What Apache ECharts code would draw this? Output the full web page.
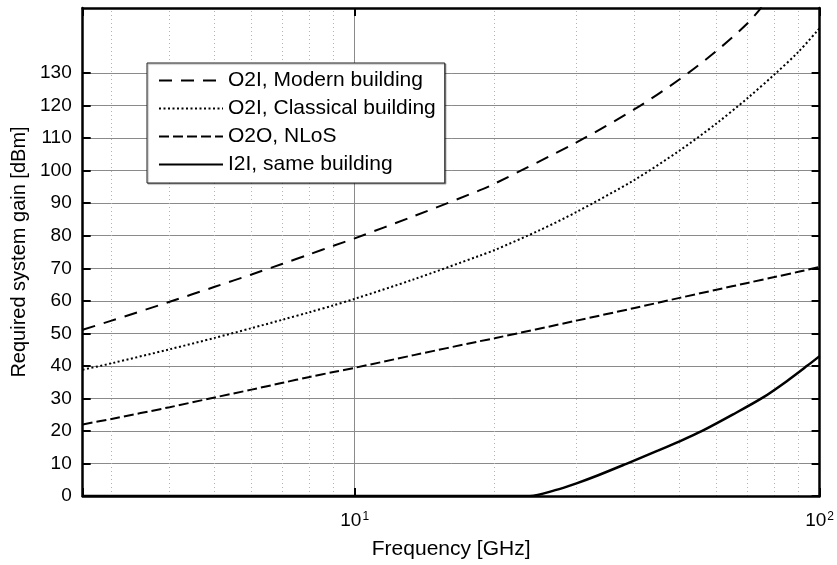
<!DOCTYPE html>
<html><head><meta charset="utf-8">
<script src="https://cdn.jsdelivr.net/npm/echarts@6/dist/echarts.min.js"></script>
<style>html,body{margin:0;padding:0;background:#fff}#c{width:837px;height:565px}</style>
</head><body><div id="c"></div>
<script>
const seriesNames = ['O2I, Modern building', 'O2I, Classical building', 'O2O, NLoS', 'I2I, same building'];

const freqModern = [2.6, 3, 4, 5, 6, 7, 8, 9, 10, 13.4, 18.6, 20, 30, 40, 50, 60, 70, 75];
const gainModern = [51.1, 53.9, 59.7, 64.3, 68.1, 71.4, 74.3, 76.9, 79.2, 86.0, 94.0, 96.0, 108.7, 118.9, 128.1, 136.8, 145.3, 150.2];

const freqClassical = [2.6, 3, 4, 5, 6, 7, 8, 9, 10, 13.4, 18.6, 20, 25, 30, 40, 50, 60, 70, 80, 90, 100];
const gainClassical = [38.8, 40.8, 45.1, 48.6, 51.6, 54.2, 56.5, 58.6, 60.6, 66.6, 73.9, 75.6, 81.7, 87.3, 97.2, 106.2, 114.5, 122.3, 129.6, 136.5, 143.8];

const freqO2O = [2.6, 3, 4, 5, 6, 7, 8, 9, 10, 13.4, 18.6, 20, 30, 40, 50, 60, 70, 80, 90, 100];
const gainO2O = [22.0, 23.7, 27.3, 30.3, 32.7, 34.8, 36.6, 38.1, 39.4, 43.3, 47.6, 48.5, 53.9, 57.8, 60.9, 63.4, 65.5, 67.3, 68.9, 70.4];

const freqI2I = [2.6, 23.8, 27, 30, 33.3, 38.4, 45, 50, 55.9, 65, 75.6, 85, 94, 100];
const gainI2I = [0, 0, 1.8, 3.9, 6.3, 9.9, 14.0, 16.8, 20.0, 25.0, 30.3, 35.3, 40.0, 43.0];

const yTickValues = [0, 10, 20, 30, 40, 50, 60, 70, 80, 90, 100, 110, 120, 130];
const yGridValues = [10, 20, 30, 40, 50, 60, 70, 80, 90, 100, 110, 120, 130];
const xMinorGrid = [3, 4, 5, 6, 7, 8, 9, 20, 30, 40, 50, 60, 70, 80, 90];
const xMajorGrid = [10];
const xMin = 2.6, xMax = 100, yMin = 0, yMax = 150;

const FONT = "'Liberation Sans', Arial, Helvetica, sans-serif";
const pairs = (xs, ys) => xs.map((x, i) => [x, ys[i]]);

const chart = echarts.init(document.getElementById('c'), null, {renderer: 'canvas'});

const axisLineStyle = {color: '#000', width: 2.5};
const yLabelFmt = v => (v <= 130 ? String(v) : '');

const option = {
  animation: false,
  backgroundColor: '#fff',
  textStyle: {fontFamily: FONT},
  grid: {left: 82.7, right: 14.3, top: 8, bottom: 68, containLabel: false},
  legend: {
    data: seriesNames,
    orient: 'vertical',
    left: 147, top: 63,
    padding: [7, 9, 8, 11],
    itemGap: 7,
    itemWidth: 64,
    itemHeight: 14,
    backgroundColor: '#fff',
    borderColor: '#222',
    borderWidth: 1,
    shadowColor: 'rgba(0,0,0,0.35)',
    shadowOffsetX: 1,
    shadowOffsetY: 1,
    shadowBlur: 1,
    z: 30,
    itemStyle: {opacity: 0},
    textStyle: {fontSize: 21, color: '#000', fontFamily: FONT},
    inactiveColor: '#000'
  },
  xAxis: [{
    type: 'log', logBase: 10, min: xMin, max: xMax,
    position: 'bottom', z: 20,
    name: 'Frequency [GHz]', nameLocation: 'middle', nameGap: 43,
    nameTextStyle: {fontSize: 21, color: '#000', fontFamily: FONT},
    axisLine: {show: true, onZero: false, lineStyle: axisLineStyle},
    axisTick: {show: true, inside: true, length: 8, lineStyle: {color: '#000', width: 2}},
    splitLine: {show: false},
    minorTick: {show: false},
    axisLabel: {
      margin: 15,
      color: '#000',
      formatter: function (v) {
        const e = Math.log10(v);
        if (Math.abs(e - Math.round(e)) < 1e-6 && Math.round(e) >= 1) {
          return '{b|10}{s|' + Math.round(e) + '}';
        }
        return '';
      },
      rich: {
        b: {fontSize: 19, lineHeight: 19, color: '#000', fontFamily: FONT, verticalAlign: 'bottom'},
        s: {fontSize: 12, lineHeight: 12, color: '#000', fontFamily: FONT, verticalAlign: 'top', padding: [0, 0, 0, 1]}
      }
    }
  }, {
    type: 'log', logBase: 10, min: xMin, max: xMax,
    position: 'top', z: 20,
    axisLine: {show: true, onZero: false, lineStyle: axisLineStyle},
    axisTick: {show: true, inside: true, length: 8, lineStyle: {color: '#000', width: 2}},
    axisLabel: {show: false},
    splitLine: {show: false}
  }],
  yAxis: [{
    type: 'value', min: yMin, max: yMax, interval: 10,
    position: 'left', z: 20,
    name: 'Required system gain [dBm]', nameLocation: 'middle', nameGap: 52,
    nameTextStyle: {fontSize: 20, color: '#000', fontFamily: FONT},
    axisLine: {show: true, onZero: false, lineStyle: axisLineStyle},
    axisTick: {show: true, inside: true, length: 8, customValues: yTickValues, lineStyle: {color: '#000', width: 2}},
    axisLabel: {margin: 11, fontSize: 19, color: '#000', customValues: yTickValues, formatter: yLabelFmt},
    splitLine: {show: false}
  }, {
    type: 'value', min: yMin, max: yMax, interval: 10,
    position: 'right', z: 20,
    axisLine: {show: true, onZero: false, lineStyle: axisLineStyle},
    axisTick: {show: true, inside: true, length: 8, customValues: yTickValues, lineStyle: {color: '#000', width: 2}},
    axisLabel: {show: false},
    splitLine: {show: false}
  }],
  series: [
    {
      name: '_grid', type: 'line', data: [], z: 1, silent: true,
      markLine: {
        silent: true, symbol: ['none', 'none'], animation: false,
        label: {show: false},
        data: [].concat(
          yGridValues.map(v => ({yAxis: v, lineStyle: {color: '#8a8a8a', width: 1, type: 'solid'}})),
          xMajorGrid.map(v => ({xAxis: v, lineStyle: {color: '#8a8a8a', width: 1, type: 'solid'}})),
          xMinorGrid.map(v => ({xAxis: v, lineStyle: {color: '#b4b4b4', width: 1, type: [1, 3]}}))
        )
      }
    },
    {
      name: seriesNames[0], type: 'line', data: pairs(freqModern, gainModern),
      symbol: 'none', showSymbol: false, smooth: 0.3, clip: true, z: 10,
      lineStyle: {color: '#000', width: 2, type: [13, 9]}, itemStyle: {color: '#000'}
    },
    {
      name: seriesNames[1], type: 'line', data: pairs(freqClassical, gainClassical),
      symbol: 'none', showSymbol: false, smooth: 0.3, clip: true, z: 10,
      lineStyle: {color: '#000', width: 2, type: [2, 2.5]}, itemStyle: {color: '#000'}
    },
    {
      name: seriesNames[2], type: 'line', data: pairs(freqO2O, gainO2O),
      symbol: 'none', showSymbol: false, smooth: 0.3, clip: true, z: 10,
      lineStyle: {color: '#000', width: 2, type: [10, 4]}, itemStyle: {color: '#000'}
    },
    {
      name: seriesNames[3], type: 'line', data: pairs(freqI2I, gainI2I),
      symbol: 'none', showSymbol: false, smooth: 0.3, clip: true, z: 10,
      lineStyle: {color: '#000', width: 2.5, type: 'solid'}, itemStyle: {color: '#000'}
    }
  ]
};
chart.setOption(option);
</script>
</body></html>
